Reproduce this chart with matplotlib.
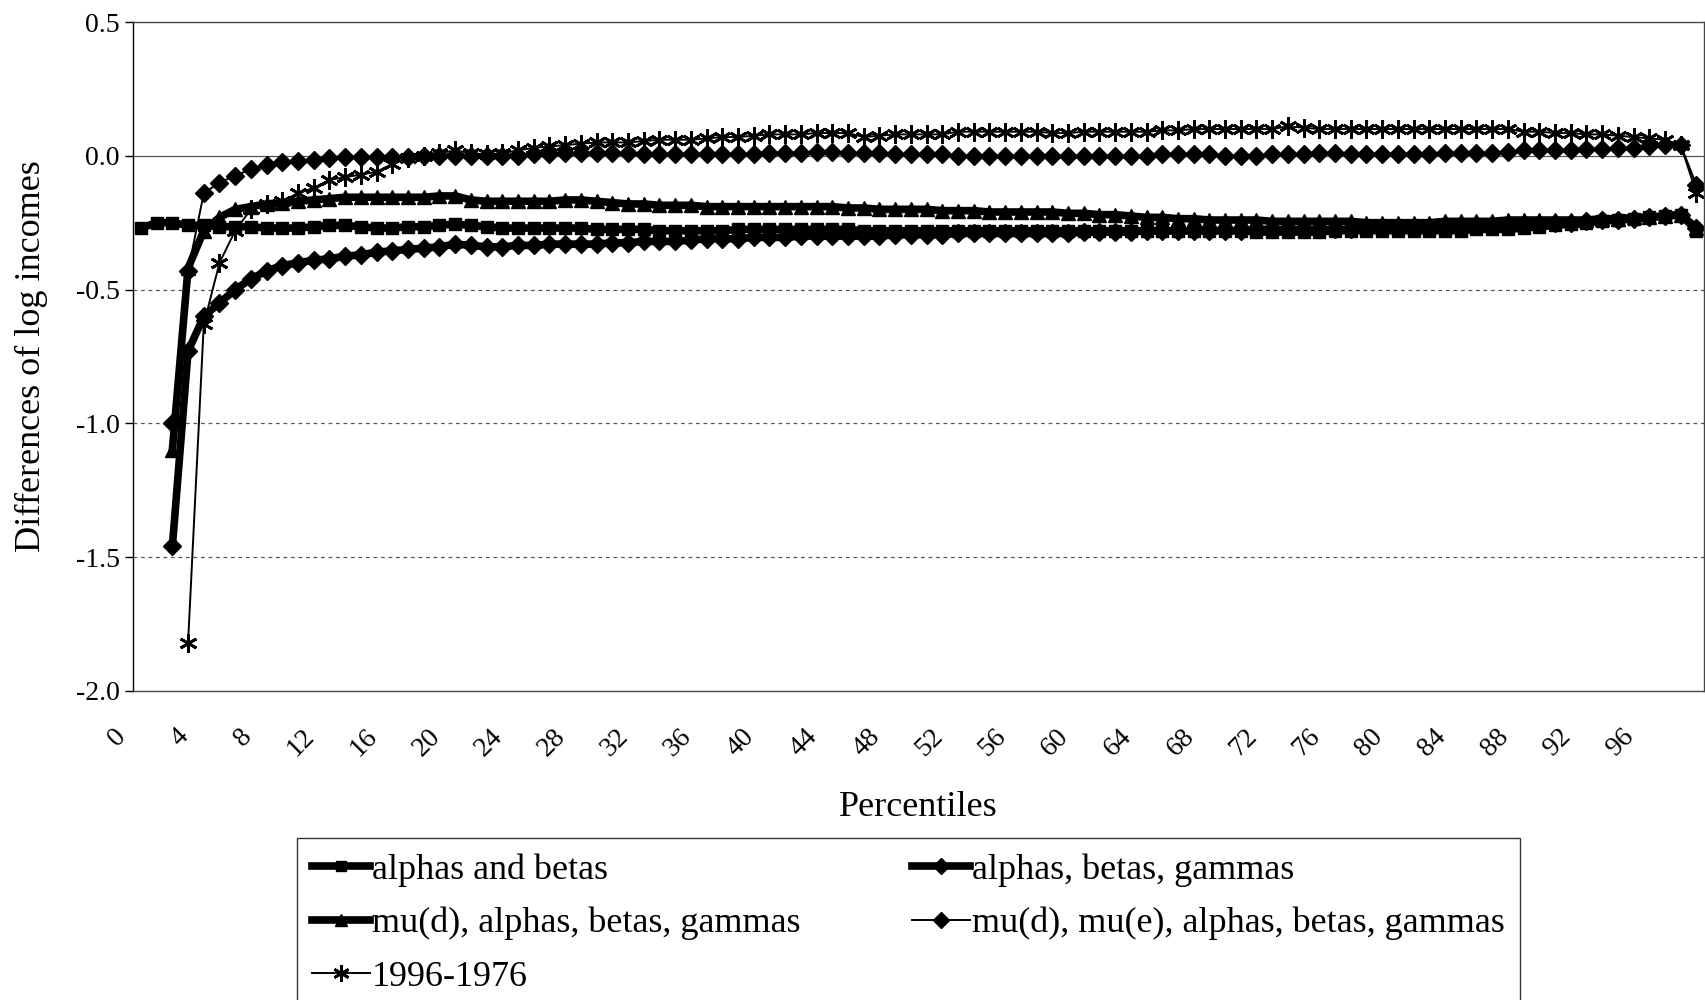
import numpy as np
import matplotlib.pyplot as plt
import matplotlib.transforms as mtransforms

plt.rcParams['font.family'] = ['Liberation Serif', 'DejaVu Serif']
plt.rcParams['axes.unicode_minus'] = False

nan = np.nan
percentiles = list(range(100))
xtick_pos = list(range(0, 100, 4))
xtick_labels = [str(p) for p in xtick_pos]

alphas_betas = [
    -0.27, -0.25, -0.25, -0.26, -0.26, -0.265, -0.265, -0.265, -0.27, -0.27,
    -0.27, -0.265, -0.26, -0.26, -0.265, -0.27, -0.27, -0.265, -0.265, -0.26,
    -0.255, -0.26, -0.265, -0.27, -0.27, -0.27, -0.27, -0.27, -0.27, -0.275,
    -0.275, -0.275, -0.275, -0.28, -0.28, -0.28, -0.28, -0.28, -0.275, -0.275,
    -0.275, -0.275, -0.275, -0.275, -0.275, -0.275, -0.28, -0.28, -0.28, -0.28,
    -0.28, -0.28, -0.28, -0.28, -0.28, -0.28, -0.28, -0.28, -0.28, -0.28,
    -0.28, -0.28, -0.28, -0.28, -0.28, -0.28, -0.28, -0.28, -0.28, -0.28,
    -0.28, -0.285, -0.285, -0.285, -0.285, -0.285, -0.28, -0.28, -0.28, -0.28,
    -0.28, -0.28, -0.28, -0.28, -0.28, -0.275, -0.275, -0.275, -0.27, -0.265,
    -0.26, -0.255, -0.25, -0.245, -0.24, -0.235, -0.23, -0.225, -0.22, -0.28,
]

alphas_betas_gammas = [
    nan, nan, -1.46, -0.73, -0.6, -0.55, -0.5, -0.46, -0.43, -0.41,
    -0.40, -0.39, -0.385, -0.375, -0.37, -0.36, -0.355, -0.35, -0.345, -0.34,
    -0.33, -0.335, -0.34, -0.34, -0.335, -0.335, -0.33, -0.33, -0.33, -0.33,
    -0.325, -0.325, -0.32, -0.32, -0.32, -0.315, -0.31, -0.31, -0.31, -0.305,
    -0.305, -0.305, -0.3, -0.3, -0.3, -0.3, -0.3, -0.3, -0.295, -0.295,
    -0.295, -0.295, -0.29, -0.29, -0.29, -0.29, -0.29, -0.29, -0.29, -0.29,
    -0.285, -0.285, -0.285, -0.285, -0.28, -0.28, -0.28, -0.28, -0.28, -0.28,
    -0.28, -0.275, -0.275, -0.275, -0.275, -0.275, -0.275, -0.275, -0.27, -0.27,
    -0.27, -0.27, -0.27, -0.265, -0.265, -0.26, -0.26, -0.26, -0.255, -0.255,
    -0.25, -0.25, -0.245, -0.24, -0.24, -0.235, -0.23, -0.225, -0.22, -0.27,
]

mud_abg = [
    nan, nan, -1.1, -0.42, -0.28, -0.23, -0.2, -0.19, -0.18, -0.175,
    -0.17, -0.165, -0.16, -0.155, -0.155, -0.155, -0.155, -0.155, -0.155, -0.15,
    -0.15, -0.165, -0.17, -0.17, -0.17, -0.17, -0.17, -0.165, -0.165, -0.17,
    -0.175, -0.18, -0.18, -0.185, -0.185, -0.185, -0.19, -0.19, -0.19, -0.19,
    -0.19, -0.19, -0.19, -0.19, -0.19, -0.195, -0.195, -0.2, -0.2, -0.2,
    -0.2, -0.205, -0.205, -0.205, -0.21, -0.21, -0.21, -0.21, -0.21, -0.215,
    -0.215, -0.22, -0.22, -0.225, -0.23, -0.23, -0.235, -0.235, -0.24, -0.24,
    -0.24, -0.24, -0.245, -0.245, -0.245, -0.245, -0.245, -0.245, -0.25, -0.25,
    -0.25, -0.25, -0.25, -0.245, -0.245, -0.245, -0.245, -0.24, -0.24, -0.24,
    -0.24, -0.24, -0.24, -0.235, -0.235, -0.23, -0.23, -0.225, -0.22, -0.27,
]

mud_mue_abg = [
    nan, nan, -1.0, -0.43, -0.14, -0.1, -0.075, -0.05, -0.035, -0.025,
    -0.02, -0.015, -0.01, -0.005, -0.005, -0.005, -0.005, -0.005, 0.0, 0.0,
    0.0, 0.0, 0.0, 0.0, 0.0, 0.005, 0.005, 0.01, 0.01, 0.01,
    0.01, 0.01, 0.005, 0.005, 0.005, 0.005, 0.005, 0.005, 0.005, 0.005,
    0.01, 0.01, 0.01, 0.015, 0.015, 0.01, 0.01, 0.01, 0.005, 0.005,
    0.005, 0.005, 0.0, 0.0, 0.0, 0.0, 0.0, 0.0, 0.0, 0.0,
    0.0, 0.0, 0.0, 0.0, 0.0, 0.005, 0.005, 0.005, 0.005, 0.0,
    0.0, 0.0, 0.005, 0.005, 0.005, 0.01, 0.01, 0.005, 0.005, 0.005,
    0.005, 0.005, 0.005, 0.01, 0.01, 0.01, 0.01, 0.015, 0.02, 0.02,
    0.02, 0.02, 0.025, 0.025, 0.03, 0.03, 0.035, 0.04, 0.04, -0.11,
]

actual_1996_1976 = [
    nan, nan, nan, -1.82, -0.63, -0.4, -0.28, -0.2, -0.18, -0.17,
    -0.14, -0.12, -0.09, -0.08, -0.07, -0.06, -0.03, -0.01, 0.0, 0.01,
    0.02, 0.01, 0.005, 0.01, 0.02, 0.03, 0.035, 0.04, 0.045, 0.05,
    0.05, 0.05, 0.055, 0.06, 0.06, 0.06, 0.065, 0.07, 0.07, 0.075,
    0.08, 0.08, 0.08, 0.085, 0.085, 0.085, 0.07, 0.075, 0.08, 0.08,
    0.08, 0.08, 0.09, 0.09, 0.09, 0.09, 0.09, 0.09, 0.085, 0.085,
    0.09, 0.09, 0.09, 0.09, 0.09, 0.095, 0.095, 0.1, 0.1, 0.1,
    0.1, 0.1, 0.1, 0.11, 0.105, 0.1, 0.1, 0.1, 0.1, 0.1,
    0.1, 0.1, 0.1, 0.1, 0.1, 0.1, 0.1, 0.1, 0.09, 0.09,
    0.085, 0.085, 0.08, 0.08, 0.075, 0.07, 0.065, 0.06, 0.04, -0.14,
]

fig = plt.figure(figsize=(17.06, 10), dpi=100)
ax = fig.add_axes([0.078, 0.309, 0.921, 0.669])

# gridlines
for yv in [-0.5, -1.0, -1.5]:
    ax.axhline(yv, color='#555555', lw=0.9, ls=(0, (3, 3)), zorder=0)
ax.axhline(0.0, color='#555555', lw=0.9, zorder=0)

h1, = ax.plot(percentiles, alphas_betas, color='black', lw=5.5, marker='s', ms=8.5,
              label='alphas and betas')
h2, = ax.plot(percentiles, alphas_betas_gammas, color='black', lw=5.5, marker='D', ms=9,
              label='alphas, betas, gammas')
h3, = ax.plot(percentiles, mud_abg, color='black', lw=5.5, marker='^', ms=10,
              label='mu(d), alphas, betas, gammas')
h4, = ax.plot(percentiles, mud_mue_abg, color='black', lw=1.4, marker='D', ms=9,
              label='mu(d), mu(e), alphas, betas, gammas')
h5, = ax.plot(percentiles, actual_1996_1976, color='black', lw=1.4, marker=(6, 2, 0), ms=13,
              mew=2.0, label='1996-1976')

ax.set_xlim(-0.5, 99.5)
ax.set_ylim(-2.0, 0.5)
ax.set_yticks([0.5, 0.0, -0.5, -1.0, -1.5, -2.0])
ax.set_yticklabels(['%.1f' % v for v in [0.5, 0.0, -0.5, -1.0, -1.5, -2.0]], fontsize=20)

# x tick labels, rotated like Excel's category labels
ax.set_xticks(xtick_pos)
ax.set_xticklabels([])
ax.tick_params(axis='x', length=0)
lab_trans = ax.get_xaxis_transform() + mtransforms.ScaledTranslation(-0.10, -0.33, fig.dpi_scale_trans)
for pos, lab in zip(xtick_pos, xtick_labels):
    ax.text(pos, 0, lab, transform=lab_trans, fontsize=20, rotation=45,
            ha='right', va='top')
ax.tick_params(axis='y', length=6, direction='out', width=1)

for s in ax.spines.values():
    s.set_color('#444444')
    s.set_linewidth(1.0)
ax.spines['left'].set_color('black')

ax.set_ylabel('Differences of log incomes', fontsize=26, labelpad=20)
ax.set_xlabel('Percentiles', fontsize=26)
ax.xaxis.set_label_coords(0.5, -0.149)

leg = fig.legend([h1, h3, h5, h2, h4],
                 ['alphas and betas', 'mu(d), alphas, betas, gammas', '1996-1976',
                  'alphas, betas, gammas', 'mu(d), mu(e), alphas, betas, gammas'],
                 loc='upper left', bbox_to_anchor=(0.174, 0.0, 0.717, 0.162),
                 mode='expand', ncol=2, fontsize=26, frameon=True, fancybox=False,
                 edgecolor='black', handlelength=1.6, handletextpad=0.05,
                 borderpad=0.43, labelspacing=0.55, borderaxespad=0, markerscale=0.9)
leg.get_frame().set_linewidth(1.0)

fig.savefig('out.png', dpi=100, facecolor='white')
